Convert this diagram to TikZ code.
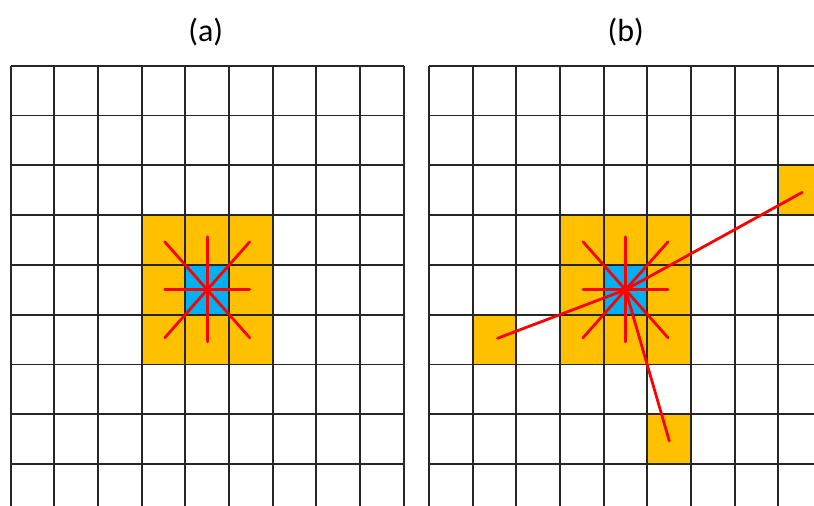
\documentclass[tikz,border=0pt]{standalone}
\usepackage{fontspec}
\setmainfont{Carlito}
\usetikzlibrary{calc}
\definecolor{cellorange}{HTML}{FFC000}
\definecolor{cellblue}{HTML}{00B0F0}
\definecolor{rayred}{HTML}{FF0000}
\definecolor{gridline}{HTML}{262626}
\begin{document}
\begin{tikzpicture}[x=1pt,y=-1pt,
  gridstyle/.style={draw=gridline,line width=1.9pt},
  ray/.style={draw=rayred,line width=2.8pt,line cap=round},
  orangecell/.style={fill=cellorange},
  bluecell/.style={fill=cellblue},
  panellabel/.style={font=\fontsize{32}{36}\selectfont,inner sep=0pt}]
\useasboundingbox (0,0) rectangle (814,506);
\clip (0,0) rectangle (814,506);
\def\cw{43.67}
\def\ch{49.8}
\def\gy{65.7}
% ---------- panel (a) ----------
\def\ax{10.7}
\fill[orangecell] (\ax+3*\cw,\gy+3*\ch) rectangle (\ax+6*\cw,\gy+6*\ch);
\fill[bluecell] (\ax+4*\cw,\gy+4*\ch) rectangle (\ax+5*\cw,\gy+5*\ch);
\foreach \i in {0,...,8} \draw[gridstyle] (\ax,\gy+\i*\ch) -- (\ax+9*\cw,\gy+\i*\ch);
\foreach \i in {0,...,9} \draw[gridstyle] (\ax+\i*\cw,\gy) -- (\ax+\i*\cw,520);
% ---------- panel (b) ----------
\def\bx{429}
\fill[orangecell] (\bx+3*\cw,\gy+3*\ch) rectangle (\bx+6*\cw,\gy+6*\ch);
\fill[orangecell] (\bx+1*\cw,\gy+5*\ch) rectangle (\bx+2*\cw,\gy+6*\ch);
\fill[orangecell] (\bx+5*\cw,\gy+7*\ch) rectangle (\bx+6*\cw,\gy+8*\ch);
\fill[orangecell] (\bx+8*\cw,\gy+2*\ch) rectangle (\bx+9*\cw,\gy+3*\ch);
\fill[bluecell] (\bx+4*\cw,\gy+4*\ch) rectangle (\bx+5*\cw,\gy+5*\ch);
\foreach \i in {0,...,8} \draw[gridstyle] (\bx,\gy+\i*\ch) -- (830,\gy+\i*\ch);
\foreach \i in {0,...,8} \draw[gridstyle] (\bx+\i*\cw,\gy) -- (\bx+\i*\cw,520);
% ---------- rays ----------
\coordinate (ca) at (\ax+4.5*\cw,\gy+4.5*\ch);
\coordinate (cb) at (\bx+4.5*\cw,\gy+4.5*\ch);
\foreach \c in {ca,cb} {
  \coordinate (\c-e) at ($(\c)+(42.5,0)$);
  \coordinate (\c-w) at ($(\c)+(-42.5,0)$);
  \coordinate (\c-n) at ($(\c)+(0,-53)$);
  \coordinate (\c-s) at ($(\c)+(0,52)$);
  \coordinate (\c-ne) at ($(\c)+(42.5,-48)$);
  \coordinate (\c-nw) at ($(\c)+(-42.5,-48)$);
  \coordinate (\c-se) at ($(\c)+(42.5,48)$);
  \coordinate (\c-sw) at ($(\c)+(-42.5,48)$);
  \foreach \d in {e,w,n,s,ne,nw,se,sw} \draw[ray] (\c) -- (\c-\d);
}
\coordinate (far1) at (497.5,338.3);
\coordinate (far2) at (669.3,441);
\coordinate (far3) at (802.3,192.3);
\draw[ray] (cb) -- (far1);
\draw[ray] (cb) -- (far2);
\draw[ray] (cb) -- (far3);
% ---------- labels ----------
\node[panellabel] (la) at (205.8,32.5) {(a)};
\node[panellabel] (lb) at (625.8,32.5) {(b)};
\end{tikzpicture}
\end{document}
